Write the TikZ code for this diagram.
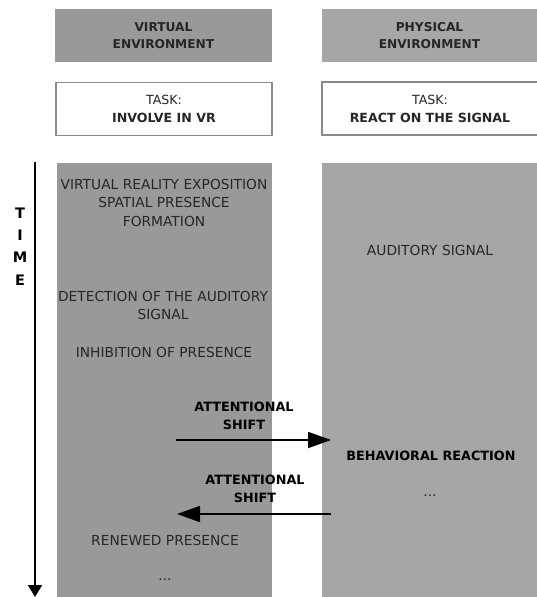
\documentclass[tikz,border=0pt]{standalone}
\usepackage{fontspec}
\setmainfont{DejaVu Sans}
\usetikzlibrary{arrows.meta}
\definecolor{leftgray}{HTML}{999999}
\definecolor{rightgray}{HTML}{A6A6A6}
\definecolor{txtgray}{HTML}{262626}
\definecolor{boxedge}{HTML}{8A8A8A}
\newcommand{\regfont}{\fontsize{13.8}{18.5}\selectfont}
\newcommand{\boldfont}{\fontsize{12.8}{18.5}\selectfont\bfseries}
\begin{document}
\begin{tikzpicture}[x=1pt,y=-1pt,
  txt/.style={font=\regfont, text=txtgray, align=center, inner sep=0pt},
  btxt/.style={font=\boldfont, text=black, align=center, inner sep=0pt},
  headbox/.style={minimum width=217pt, minimum height=53pt, inner sep=0pt, align=center,
     font=\fontsize{12.2}{17}\selectfont\bfseries, text=txtgray},
  taskbox/.style={draw=boxedge, line width=1.2pt, fill=white, minimum width=216pt, minimum height=53pt,
     inner sep=0pt, align=center, font=\fontsize{12.6}{18}\selectfont, text=txtgray},
  shiftarrow/.style={-{Triangle[length=23pt,width=16pt]}, line width=1.8pt, black}
]
\useasboundingbox (0,0) rectangle (537,597);
% header boxes
\node[headbox, fill=leftgray] (hv) at (163.5,35.5) {VIRTUAL\\ENVIRONMENT};
\node[headbox, fill=rightgray, minimum width=215pt] (hp) at (429.5,35.5) {PHYSICAL\\ENVIRONMENT};
% task boxes
\node[taskbox] (tv) at (164,109) {TASK:\\\textbf{INVOLVE IN VR}};
\node[taskbox, minimum width=216pt] (tp) at (430,108.5) {TASK:\\\textbf{REACT ON THE SIGNAL}};
% columns
\fill[leftgray] (57,163) rectangle (272,597);
\fill[rightgray] (322,163) rectangle (537,597);
% time arrow
\coordinate (ttop) at (35,162);
\coordinate (tbot) at (35,597);
\draw[line width=1.8pt, -{Triangle[length=12pt,width=14pt]}] (ttop) -- (tbot);
\node[font=\fontsize{14.5}{22.3}\selectfont\bfseries, align=center, inner sep=0pt] (time) at (20,246.5) {T\\I\\M\\E};
% left texts
\node[txt] (l1) at (164,202.5) {VIRTUAL REALITY EXPOSITION\\SPATIAL PRESENCE\\FORMATION};
\node[txt] (l2) at (163,305.5) {DETECTION OF THE AUDITORY\\SIGNAL};
\node[txt] (l3) at (164,352) {INHIBITION OF PRESENCE};
\node[txt] (l4) at (165,540) {RENEWED PRESENCE};
\node[txt] (l5) at (165,580) {...};
% right texts
\node[txt] (r1) at (430,250) {AUDITORY SIGNAL};
\node[btxt] (r2) at (431,456) {BEHAVIORAL REACTION};
\node[txt] (r3) at (430,496) {...};
% attentional shifts
\node[btxt] (s1) at (244,416) {ATTENTIONAL\\SHIFT};
\node[btxt] (s2) at (255,489) {ATTENTIONAL\\SHIFT};
\coordinate (a1s) at (176,440);
\coordinate (a1e) at (331,440);
\coordinate (a2s) at (331,514);
\coordinate (a2e) at (177,514);
\draw[shiftarrow] (a1s) -- (a1e);
\draw[shiftarrow] (a2s) -- (a2e);
\end{tikzpicture}
\end{document}
